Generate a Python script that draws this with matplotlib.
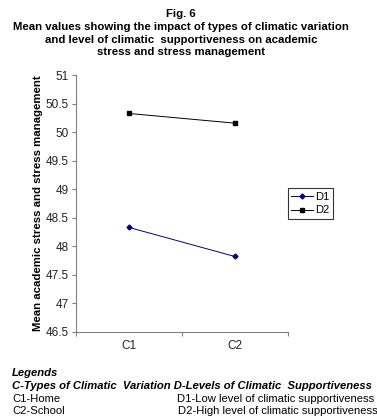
import matplotlib
matplotlib.use("Agg")
import matplotlib.pyplot as plt

plt.rcParams['font.family'] = ['Liberation Sans', 'DejaVu Sans']

categories = ["C1", "C2"]
d1_values = [48.33, 47.82]
d2_values = [50.33, 50.16]
series_labels = ["D1", "D2"]
y_ticks = [46.5, 47, 47.5, 48, 48.5, 49, 49.5, 50, 50.5, 51]

fig = plt.figure(figsize=(3.77, 4.19), dpi=100)
ax = fig.add_axes([0.2016, 0.2084, 0.5615, 0.6119])

x = [1, 2]
ax.plot(x, d1_values, color="#000080", marker="D", markersize=2.5, linewidth=0.7,
        label=series_labels[0])
ax.plot(x, d2_values, color="black", marker="s", markersize=3.2, linewidth=0.7,
        label=series_labels[1])

ax.set_xlim(0.5, 2.5)
ax.set_ylim(46.5, 51)
ax.set_yticks(y_ticks)
ax.set_yticklabels([f"{t:g}" for t in y_ticks])
ax.set_xticks(x)
ax.set_xticklabels(categories)
ax.set_xticks([0.5, 1.5, 2.5], minor=True)
ax.tick_params(axis="x", which="major", length=0, pad=6, labelsize=8.5, labelcolor="#222222")
ax.tick_params(axis="x", which="minor", length=3, color="#808080", width=0.8)
ax.tick_params(axis="y", length=3, color="#808080", width=0.8, labelsize=8.5,
               labelcolor="#222222", pad=2)
for side in ("top", "right"):
    ax.spines[side].set_visible(False)
for side in ("left", "bottom"):
    ax.spines[side].set_color("#808080")
    ax.spines[side].set_linewidth(0.8)

ax.set_ylabel("Mean academic stress and stress management", fontsize=8.2,
              fontweight="bold", labelpad=2)

leg = ax.legend(loc="center left", bbox_to_anchor=(-0.02, 0.5), fontsize=8,
                frameon=True, fancybox=False, handlelength=2.0, handletextpad=0.2,
                borderpad=0.3, labelspacing=0.35, borderaxespad=0.0,
                bbox_transform=ax.transAxes)
leg.set_bbox_to_anchor((1.0, 0.5), transform=ax.transAxes)
leg.get_frame().set_edgecolor("black")
leg.get_frame().set_linewidth(0.8)

title_lines = [
    "Fig. 6",
    "Mean values showing the impact of types of climatic variation",
    "and level of climatic  supportiveness on academic",
    "stress and stress management",
]
for i, line in enumerate(title_lines):
    fig.text(0.48, 1 - (14 + i * 12.8) / 419, line, ha="center", va="center",
             fontsize=8.2, fontweight="bold")

fig.text(12 / 377, 1 - 373 / 419, "Legends", ha="left", va="center",
         fontsize=8.1, fontweight="bold", style="italic")
fig.text(12 / 377, 1 - 386 / 419,
         "C-Types of Climatic  Variation D-Levels of Climatic  Supportiveness",
         ha="left", va="center", fontsize=8.1, fontweight="bold", style="italic")
fig.text(12 / 377, 1 - 399 / 419, "C1-Home", ha="left", va="center", fontsize=8.1)
fig.text(12 / 377, 1 - 411 / 419, "C2-School", ha="left", va="center", fontsize=8.1)
fig.text(177 / 377, 1 - 399 / 419, "D1-Low level of climatic supportiveness",
         ha="left", va="center", fontsize=8.1)
fig.text(178 / 377, 1 - 411 / 419, "D2-High level of climatic supportiveness",
         ha="left", va="center", fontsize=8.1)

fig.savefig("out.png", dpi=100)
